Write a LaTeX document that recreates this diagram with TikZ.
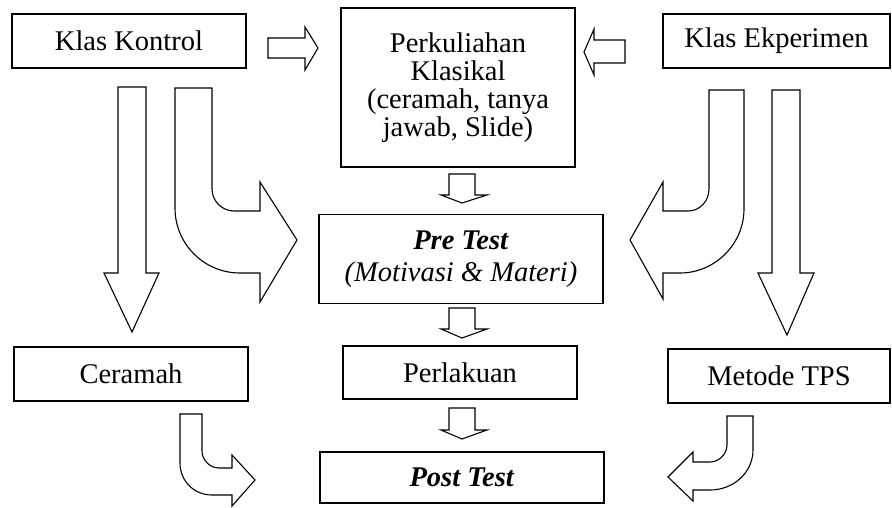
\documentclass[tikz,border=0pt]{standalone}
\usepackage{fontspec}
\setmainfont{Liberation Serif}

\begin{document}
\begin{tikzpicture}[x=1pt,y=-1pt,
                    main node/.style={rectangle,draw,line width=1.1pt,inner sep=0pt,align=center,
                                      font=\fontsize{28.5}{28}\selectfont},
                    block/.style={draw,line width=1.1pt,fill=white,line join=miter}]

  \useasboundingbox (0,0) rectangle (892,507);

  \node[main node,minimum width=234,minimum height=54] (1) at (129,41) {Klas Kontrol};
  \node[main node,minimum width=234,minimum height=159] (2) at (458,87.5)
       {Perkuliahan\\Klasikal\\(ceramah, tanya\\jawab, Slide)};
  \node[main node,minimum width=227,minimum height=54] (3) at (776.5,41) {Klas Ekperimen};
  \node[main node,minimum width=284,minimum height=89] (4) at (461,259)
       {\textbf{\textit{Pre Test}}\\[4pt]\textit{(Motivasi \& Materi)}};
  \node[main node,minimum width=234,minimum height=54] (5) at (131,374) {Ceramah};
  \node[main node,minimum width=234,minimum height=53] (6) at (460,372.5) {Perlakuan};
  \node[main node,minimum width=222,minimum height=54] (7) at (779,376) {Metode TPS};
  \node[main node,minimum width=284,minimum height=51] (8) at (462,477.5) {\textbf{\textit{Post Test}}};

  % arrows into the lecture box
  \draw[block] (268,38) -- (305,38) -- (305,27) -- (318,48) -- (305,70) -- (305,58) -- (268,58) -- cycle;
  \draw[block] (625,40) -- (594,40) -- (594,29) -- (584,52) -- (594,75) -- (594,63) -- (625,63) -- cycle;

  % middle column
  \foreach \ya/\yb/\yc in {174/195/203, 308/329/338, 408/430/439}
    \draw[block] (449,\ya) -- (475,\ya) -- (475,\yb) -- (487,\yb) -- (462,\yc)
                 -- (441,\yb) -- (449,\yb) -- cycle;

  % long arrows down
  \draw[block] (118,87) -- (146,87) -- (146,273) -- (159,273) -- (132,332) -- (104,273) -- (118,273) -- cycle;
  \draw[block] (772,90) -- (800,90) -- (800,273) -- (814,273) -- (787,335) -- (758,273) -- (772,273) -- cycle;

  % bent arrows to the pre test
  \draw[block] (175,88) -- (212,88) -- (212,189) .. controls (212,201) and (222,211) .. (234,211)
               -- (260,211) -- (260,182) -- (297,240) -- (260,302) -- (260,273) -- (240,273)
               .. controls (204,273) and (175,244) .. (175,208) -- cycle;
  \draw[block] (744,90) -- (709,90) -- (709,189) .. controls (709,201) and (700,211) .. (688,211)
               -- (663,211) -- (663,182) -- (630,240) -- (663,299) -- (663,273) -- (680,273)
               .. controls (715,273) and (744,244) .. (744,209) -- cycle;

  % bent arrows to the post test
  \draw[block] (180,414) -- (202,414) -- (202,451) .. controls (202,460) and (210,468) .. (219,468)
               -- (232,468) -- (232,455) -- (255,480) -- (232,506) -- (232,495) -- (212,495)
               .. controls (194,495) and (180,481) .. (180,463) -- cycle;
  \draw[block] (753,416) -- (727,416) -- (727,445) .. controls (727,454) and (719,462) .. (710,462)
               -- (693,462) -- (693,452) -- (668,477) -- (693,501) -- (693,490) -- (710,490)
               .. controls (734,490) and (753,472) .. (753,450) -- cycle;
\end{tikzpicture}
\end{document}
